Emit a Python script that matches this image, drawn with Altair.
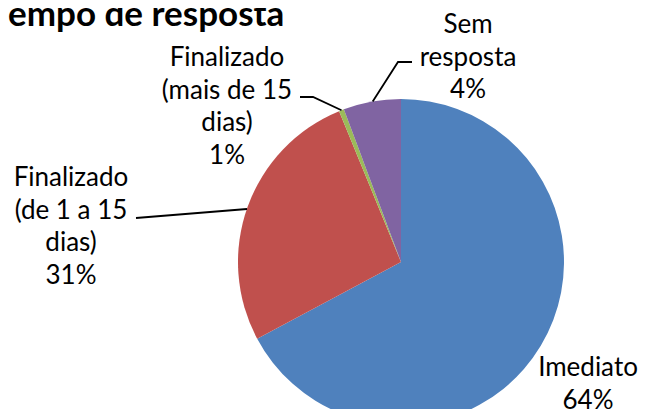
import altair as alt
import pandas as pd

# ---- data ----
categories = ["Imediato", "Finalizado (de 1 a 15 dias)", "Finalizado (mais de 15 dias)", "Sem resposta"]
shares = [67.2, 26.6, 0.5, 5.7]          # slice sizes as drawn
pct_labels = ["64%", "31%", "1%", "4%"]   # percentages printed on the chart
label_names = [["Imediato"], ["Finalizado", "(de 1 a 15", "dias)"],
               ["Finalizado", "(mais de 15", "dias)"], ["Sem", "resposta"]]
colors = ["#4F81BD", "#C0504D", "#9BBB59", "#8064A2"]
title_text = "empo de resposta"

# ---- layout ----
W, H = 633, 401
CX, CY, R = 393, 254, 163
label_pos = [(580, 360), (63, 170), (219, 50), (460, 17)]   # centre of first line
leaders = [
    [(128, 210), (239, 201)],
    [(292, 89), (305, 89), (333.5, 102.2)],
    [(404, 54), (390, 54), (364.7, 93.5)],
]

df = pd.DataFrame({"categoria": categories, "valor": shares, "ordem": list(range(len(categories)))})

pie = alt.Chart(df).mark_arc(outerRadius=R).encode(
    theta=alt.Theta("valor:Q", stack=True),
    color=alt.Color("categoria:N", scale=alt.Scale(domain=categories, range=colors), legend=None),
    order=alt.Order("ordem:Q"),
    x=alt.value(CX),
    y=alt.value(CY),
)

lab_df = pd.DataFrame({
    "txt": [names + [p] for names, p in zip(label_names, pct_labels)],
    "px": [p[0] for p in label_pos],
    "py": [p[1] for p in label_pos],
})
labels = alt.Chart(lab_df).mark_text(
    font="Lato", fontSize=26, align="center", baseline="middle", lineHeight=32.5, color="#000000"
).encode(
    x=alt.X("px:Q", scale=None),
    y=alt.Y("py:Q", scale=None),
    text="txt",
)

lead_rows = []
for i, pts in enumerate(leaders):
    for j, (lx, ly) in enumerate(pts):
        lead_rows.append({"g": i, "k": j, "lx": lx, "ly": ly})
lead_df = pd.DataFrame(lead_rows)
lines = alt.Chart(lead_df).mark_line(color="#000000", strokeWidth=1.8).encode(
    x=alt.X("lx:Q", scale=None),
    y=alt.Y("ly:Q", scale=None),
    detail="g:N",
    order="k:Q",
)

title = alt.Chart(pd.DataFrame({"t": [title_text]})).mark_text(
    font="Lato", fontSize=35, fontWeight="bold", align="left", baseline="alphabetic", color="#000000"
).encode(
    x=alt.value(0),
    y=alt.value(18),
    text="t:N",
)

chart = alt.layer(pie, lines, labels, title).properties(
    width=W, height=H, padding=0, autosize=alt.AutoSizeParams(type="none"),
    background="#ffffff",
).configure_view(stroke=None)

chart.save("out.html", embed_options={"renderer": "svg", "actions": False})
